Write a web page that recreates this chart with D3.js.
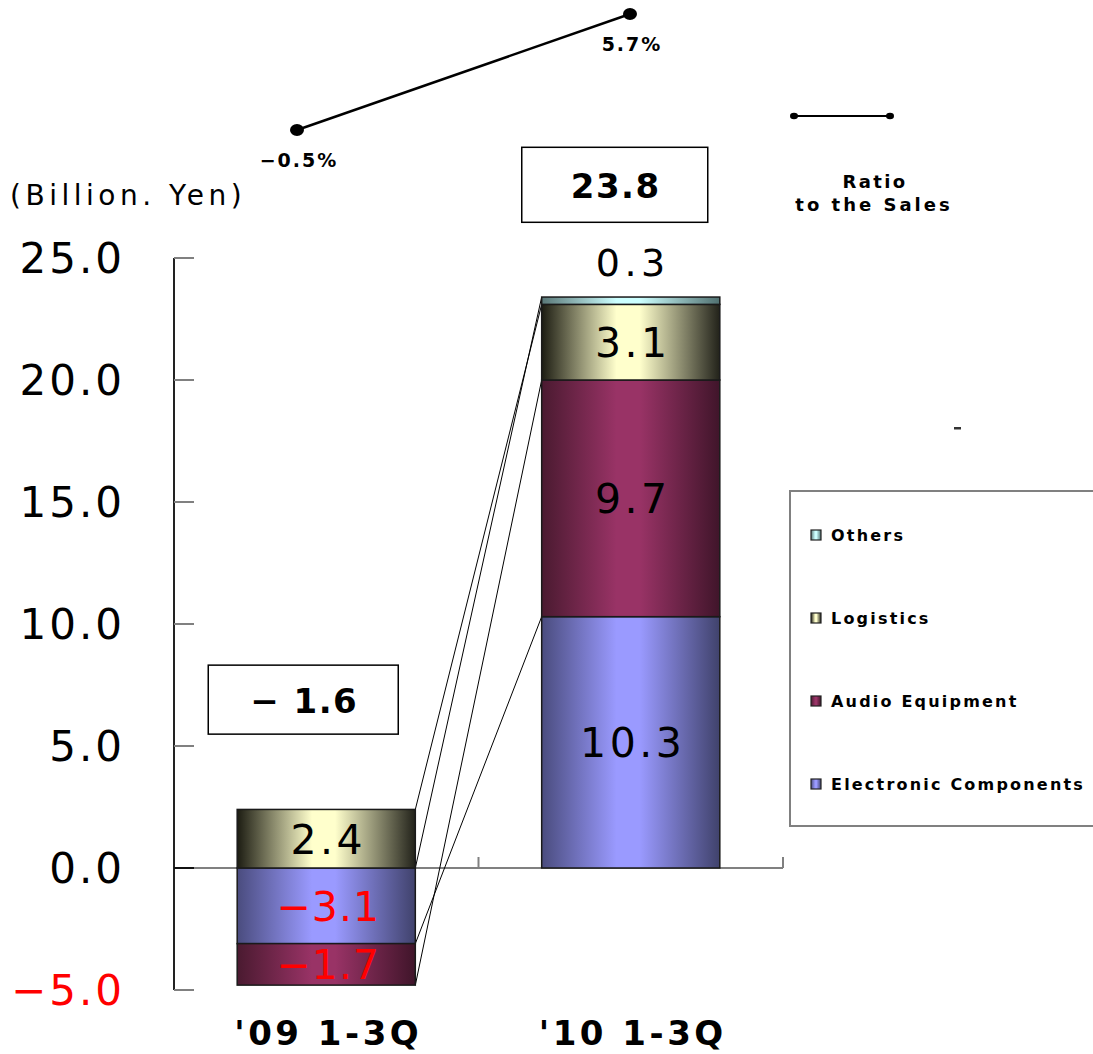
<!DOCTYPE html>
<html>
<head>
<meta charset="utf-8">
<script src="https://cdn.jsdelivr.net/npm/d3@7"></script>
<style>
  html, body { margin: 0; padding: 0; background: #fff; }
  svg { display: block; font-family: "DejaVu Sans", "Liberation Sans", sans-serif; }
</style>
</head>
<body>
<svg id="chart" width="1093" height="1054"></svg>
<script>
// Operating income by segment, cumulative 1-3Q (billion yen)
const categories = ["'09 1-3Q", "'10 1-3Q"];
const segmentNames = ["Electronic Components", "Audio Equipment", "Logistics", "Others"];
const electronicComponents = [-3.1, 10.3];
const audioEquipment = [-1.7, 9.7];
const logistics = [2.4, 3.1];
const others = [0.0, 0.3];
const totals = [-1.6, 23.8];
const ratioToSales = [-0.5, 5.7];
const yTicks = [-5, 0, 5, 10, 15, 20, 25];
const legendOrder = ["Others", "Logistics", "Audio Equipment", "Electronic Components"];

const rows = categories.map((c, i) => ({
  category: c,
  "Electronic Components": electronicComponents[i],
  "Audio Equipment": audioEquipment[i],
  "Logistics": logistics[i],
  "Others": others[i]
}));

const shades = {
  "Electronic Components": { left: "#4a4c7e", mid: "#9a9aff", right: "#40426c" },
  "Audio Equipment": { left: "#4a1a30", mid: "#993366", right: "#40152a" },
  "Logistics": { left: "#1c1c12", mid: "#ffffcc", right: "#22221a" },
  "Others": { left: "#5a7878", mid: "#ccffff", right: "#507070" }
};

const svg = d3.select("#chart");
const defs = svg.append("defs");
const slug = s => s.replace(/\s+/g, "-");
segmentNames.forEach(name => {
  const g = defs.append("linearGradient").attr("id", "grad-" + slug(name))
    .attr("x1", "0%").attr("x2", "100%").attr("y1", "0%").attr("y2", "0%");
  g.append("stop").attr("offset", "0%").attr("stop-color", shades[name].left);
  g.append("stop").attr("offset", "42%").attr("stop-color", shades[name].mid);
  g.append("stop").attr("offset", "55%").attr("stop-color", shades[name].mid);
  g.append("stop").attr("offset", "100%").attr("stop-color", shades[name].right);
});

const plotLeft = 174, plotRight = 783;
const x = d3.scaleBand().domain(categories).range([plotLeft, plotRight]).padding(0);
const barW = x.bandwidth() * 0.585;
const barX = c => x(c) + (x.bandwidth() - barW) / 2;
const y = d3.scaleLinear().domain([-5, 25]).range([990, 258]);

const stack = d3.stack().keys(segmentNames)
  .order(d3.stackOrderNone).offset(d3.stackOffsetDiverging);
const series = stack(rows);

const fmt = v => (v < 0 ? "\u2212" : "") + d3.format(".1f")(Math.abs(v));

// Y axis line and inward ticks
svg.append("line").attr("x1", plotLeft).attr("x2", plotLeft)
  .attr("y1", y(25)).attr("y2", y(-5)).attr("stroke", "#222").attr("stroke-width", 2);
svg.selectAll(".ytick").data(yTicks).join("line")
  .attr("x1", plotLeft).attr("x2", plotLeft + 20)
  .attr("y1", d => y(d)).attr("y2", d => y(d))
  .attr("stroke", d => d === 0 ? "#111" : "#808080").attr("stroke-width", 2);
svg.selectAll(".ylab").data(yTicks).join("text")
  .attr("x", 125).attr("y", d => y(d) + 15)
  .attr("text-anchor", "end")
  .attr("font-size", 42).attr("letter-spacing", 3)
  .attr("fill", d => d < 0 ? "#ff0000" : "#000")
  .text(d => (d < 0 ? "\u2212" : "") + d3.format(".1f")(Math.abs(d)));

// Zero baseline with category separator ticks
svg.append("line").attr("x1", plotLeft + 20).attr("x2", plotRight)
  .attr("y1", y(0)).attr("y2", y(0)).attr("stroke", "#808080").attr("stroke-width", 2);
[x(categories[1]), plotRight].forEach(px => {
  svg.append("line").attr("x1", px).attr("x2", px)
    .attr("y1", y(0)).attr("y2", y(0) - 11).attr("stroke", "#808080").attr("stroke-width", 2);
});

// Unit label
svg.append("text").attr("x", 10).attr("y", 205)
  .attr("font-size", 28).attr("letter-spacing", 4.5)
  .text("(Billion. Yen)");

// Series lines joining the outer end of each segment across the two bars
const outer = (p, key) => (p.data[key] < 0 ? p[0] : p[1]);
series.forEach(s => {
  const a = s[0], b = s[1];
  svg.append("line")
    .attr("x1", barX(categories[0]) + barW).attr("y1", y(outer(a, s.key)))
    .attr("x2", barX(categories[1])).attr("y2", y(outer(b, s.key)))
    .attr("stroke", "#000").attr("stroke-width", 1);
});

// Stacked bars
const layers = svg.selectAll(".layer").data(series).join("g")
  .attr("fill", d => "url(#grad-" + slug(d.key) + ")");
layers.selectAll("rect").data(d => d).join("rect")
  .attr("x", d => barX(d.data.category))
  .attr("width", barW)
  .attr("y", d => y(d[1]))
  .attr("height", d => Math.max(0, y(d[0]) - y(d[1])))
  .attr("stroke", "#1a1a1a").attr("stroke-width", 1.5)
  .attr("visibility", d => d[1] - d[0] === 0 ? "hidden" : "visible");

// Segment value labels
series.forEach(s => {
  s.forEach(p => {
    const v = p.data[s.key];
    if (v === 0) return;
    const cx = barX(p.data.category) + barW / 2;
    const small = Math.abs(y(p[0]) - y(p[1])) < 20;
    const ty = small ? y(p[1]) - 21 : (y(p[0]) + y(p[1])) / 2 + 15;
    svg.append("text")
      .attr("x", cx + 2).attr("y", ty)
      .attr("text-anchor", "middle")
      .attr("font-size", small ? 38 : 41)
      .attr("letter-spacing", v < 0 ? 1 : (small ? 4.5 : 3.5))
      .attr("fill", v < 0 ? "#ff0000" : "#000")
      .text(fmt(v));
  });
});

// Total boxes
const totalBox = [
  { cy: 6.9, w: 190, h: 69, dx: -23 },
  { cy: 28.0, w: 186, h: 75, dx: -16 }
];
categories.forEach((c, i) => {
  const cx = x(c) + x.bandwidth() / 2 + totalBox[i].dx;
  const cy = y(totalBox[i].cy);
  svg.append("rect")
    .attr("x", cx - totalBox[i].w / 2).attr("y", cy - totalBox[i].h / 2)
    .attr("width", totalBox[i].w).attr("height", totalBox[i].h)
    .attr("fill", "#fff").attr("stroke", "#000").attr("stroke-width", 1.5);
  const v = totals[i];
  svg.append("text").attr("x", cx + 1).attr("y", cy + 13)
    .attr("text-anchor", "middle").attr("font-size", 34).attr("font-weight", "bold")
    .attr("letter-spacing", 1.5)
    .text((v < 0 ? "\u2212 " : "") + d3.format(".1f")(Math.abs(v)));
});

// Category labels
svg.selectAll(".xlab").data(categories).join("text")
  .attr("x", d => x(d) + x.bandwidth() / 2 + 2)
  .attr("y", 1045)
  .attr("text-anchor", "middle")
  .attr("font-size", 34).attr("font-weight", "bold").attr("letter-spacing", 3.5)
  .text(d => d);

// Ratio to sales line
const yr = d3.scaleLinear().domain([-0.5, 5.7]).range([130, 14]);
const xr = [297, 630];
svg.append("path")
  .attr("d", d3.line().x((d, i) => xr[i]).y(d => yr(d))(ratioToSales))
  .attr("fill", "none").attr("stroke", "#000").attr("stroke-width", 2.5);
svg.selectAll(".rdot").data(ratioToSales).join("ellipse")
  .attr("cx", (d, i) => xr[i]).attr("cy", d => yr(d))
  .attr("rx", 7).attr("ry", 6).attr("fill", "#000");
svg.selectAll(".rlab").data(ratioToSales).join("text")
  .attr("x", (d, i) => xr[i] + 2)
  .attr("y", (d, i) => yr(d) + 37)
  .attr("text-anchor", "middle")
  .attr("font-size", 19).attr("font-weight", "bold").attr("letter-spacing", 2)
  .text(d => (d < 0 ? "\u2212" : "") + d3.format(".1f")(Math.abs(d)) + "%");

// Ratio legend
svg.append("line").attr("x1", 794).attr("x2", 890).attr("y1", 116).attr("y2", 116)
  .attr("stroke", "#000").attr("stroke-width", 2);
[794, 890].forEach(px => svg.append("ellipse").attr("cx", px).attr("cy", 116)
  .attr("rx", 4).attr("ry", 3.2).attr("fill", "#000"));
svg.append("text").attr("x", 875).attr("y", 188).attr("text-anchor", "middle")
  .attr("font-size", 18).attr("font-weight", "bold").attr("letter-spacing", 2.4).text("Ratio");
svg.append("text").attr("x", 874).attr("y", 211).attr("text-anchor", "middle")
  .attr("font-size", 18).attr("font-weight", "bold").attr("letter-spacing", 3).text("to the Sales");

// Small stray dash mark
svg.append("rect").attr("x", 954).attr("y", 427).attr("width", 7).attr("height", 2.5)
  .attr("fill", "#333");

// Segment legend
svg.append("rect").attr("x", 790).attr("y", 491).attr("width", 320).attr("height", 335)
  .attr("fill", "#fff").attr("stroke", "#808080").attr("stroke-width", 2);
const leg = svg.selectAll(".leg").data(legendOrder).join("g")
  .attr("transform", (d, i) => `translate(811, ${535 + i * 83})`);
leg.append("rect").attr("x", 0).attr("y", -5).attr("width", 10).attr("height", 10)
  .attr("fill", d => "url(#grad-" + slug(d) + ")")
  .attr("stroke", "#222").attr("stroke-width", 1.2);
leg.append("text").attr("x", 20).attr("y", 6)
  .attr("font-size", 16).attr("font-weight", "bold").attr("letter-spacing", 2.2)
  .text(d => d);
</script>
</body>
</html>
